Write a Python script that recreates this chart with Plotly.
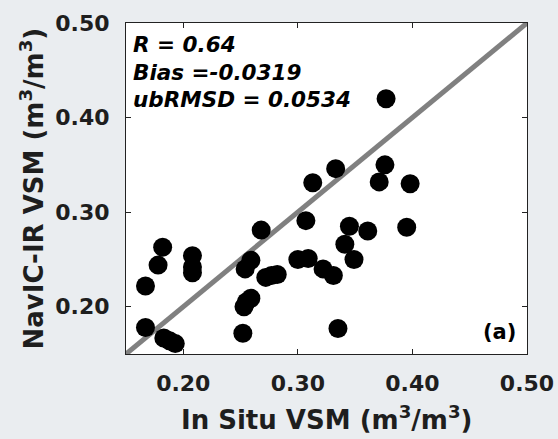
import plotly.graph_objects as go

# In situ vs. NavIC-IR volumetric soil moisture (m3/m3)
in_situ = [0.377, 0.333, 0.313, 0.376, 0.371, 0.398, 0.395, 0.307, 0.268,
           0.345, 0.361, 0.341, 0.349, 0.300, 0.309, 0.322, 0.331, 0.272,
           0.277, 0.282, 0.259, 0.254, 0.259, 0.255, 0.253, 0.252, 0.335,
           0.182, 0.178, 0.167, 0.208, 0.208, 0.208, 0.167, 0.183, 0.188,
           0.193]
navic_ir = [0.420, 0.346, 0.331, 0.350, 0.332, 0.330, 0.284, 0.291, 0.281,
            0.285, 0.280, 0.266, 0.250, 0.250, 0.251, 0.240, 0.233, 0.231,
            0.233, 0.234, 0.249, 0.240, 0.209, 0.205, 0.200, 0.172, 0.177,
            0.263, 0.244, 0.222, 0.254, 0.242, 0.236, 0.178, 0.167, 0.164,
            0.161]

axis_range = [0.15, 0.50]
tick_vals = [0.20, 0.30, 0.40, 0.50]
tick_text = ["0.20", "0.30", "0.40", "0.50"]
stats_lines = ["R = 0.64", "Bias =-0.0319", "ubRMSD = 0.0534"]
panel_label = "(a)"

FONT = "DejaVu Sans, Arial, sans-serif"
TXT = "#1e1e1e"

fig = go.Figure()

# 1:1 reference line
fig.add_trace(go.Scatter(
    x=axis_range, y=axis_range, mode="lines",
    line=dict(color="#808080", width=5), hoverinfo="skip", showlegend=False))

fig.add_trace(go.Scatter(
    x=in_situ, y=navic_ir, mode="markers",
    marker=dict(color="black", size=19, line=dict(width=0)),
    showlegend=False))

axis_common = dict(
    range=axis_range, tickvals=tick_vals, ticktext=tick_text,
    ticks="inside", ticklen=5, tickwidth=1, tickcolor="#222",
    showline=True, linecolor="#222", linewidth=1.2, mirror="ticks",
    showgrid=False, zeroline=False, automargin=False,
    tickfont=dict(family=FONT, size=22, color=TXT, weight="bold"),
)

fig.update_xaxes(**axis_common, ticklabelstandoff=9)
fig.update_yaxes(**axis_common, ticklabelstandoff=11)

annotations = []
for i, line in enumerate(stats_lines):
    annotations.append(dict(
        text=line, xref="paper", yref="paper",
        x=0.012, y=1 - (21 + 28 * i) / 331, xanchor="left", yanchor="middle",
        showarrow=False,
        font=dict(family=FONT, size=21.5, color="black", weight="bold", style="italic")))

annotations.append(dict(
    text=panel_label, xref="paper", yref="paper",
    x=0.978, y=1 - 309 / 331, xanchor="right", yanchor="middle",
    showarrow=False,
    font=dict(family=FONT, size=21, color="black", weight="bold")))

annotations.append(dict(
    text="In Situ VSM (m<sup>3</sup>/m<sup>3</sup>)", xref="paper", yref="paper",
    x=0.5, y=1 - (418 - 23) / 331, xanchor="center", yanchor="middle",
    showarrow=False, font=dict(family=FONT, size=26, color=TXT, weight="bold")))

annotations.append(dict(
    text="NavIC-IR VSM (m<sup>3</sup>/m<sup>3</sup>)", xref="paper", yref="paper",
    x=-(126 - 32) / 401, y=0.5, xanchor="center", yanchor="middle", textangle=-90,
    showarrow=False, font=dict(family=FONT, size=26, color=TXT, weight="bold")))

fig.update_layout(
    width=558, height=439,
    margin=dict(l=126, r=31, t=23, b=85, autoexpand=False),
    paper_bgcolor="#eaedf0", plot_bgcolor="white",
    annotations=annotations,
)

fig.write_html("out.html")
